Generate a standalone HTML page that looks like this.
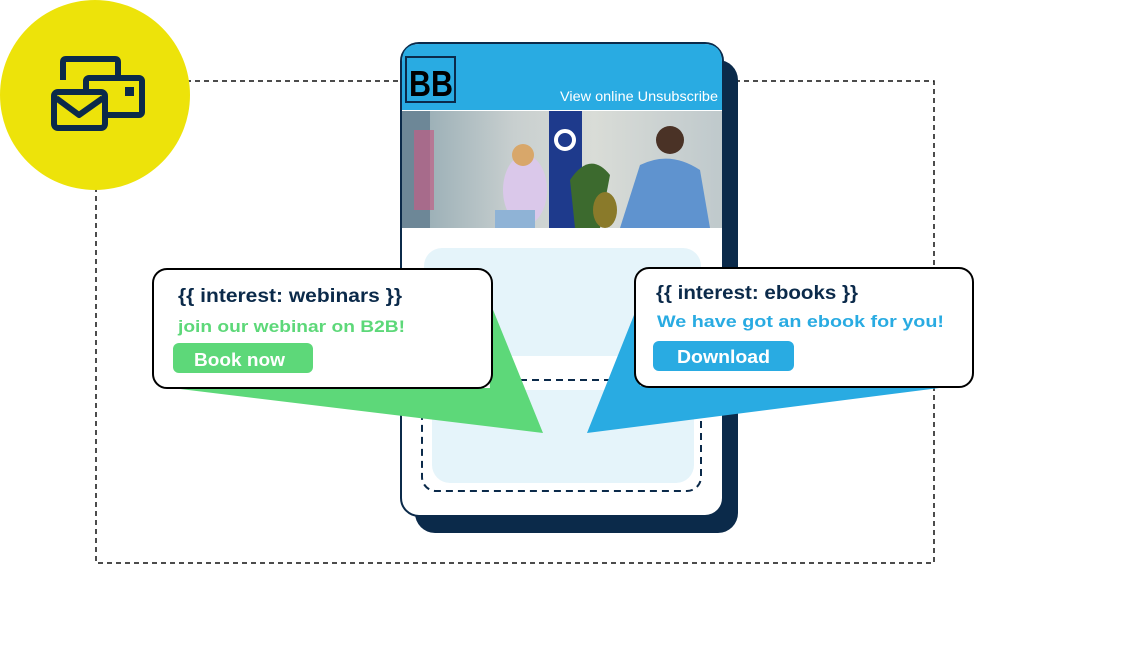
<!DOCTYPE html>
<html><head><meta charset="utf-8"><style>
html,body{margin:0;padding:0;background:#fff;}
svg{display:block;}
text{font-family:"Liberation Sans",sans-serif;font-weight:bold;}
</style></head><body>
<svg width="1140" height="652" viewBox="0 0 1140 652" xmlns="http://www.w3.org/2000/svg">
<rect x="96" y="81" width="838" height="482" fill="none" stroke="#111" stroke-width="1.5" stroke-dasharray="5,4"/>
<circle cx="95" cy="95" r="95" fill="#EDE30A"/>
<g fill="none" stroke="#0B2A4A" stroke-width="6" stroke-linejoin="round">
<path d="M63 80 V62 Q63 59 66 59 H115 Q118 59 118 62 V77"/>
<rect x="86" y="78" width="56" height="37" rx="3" fill="#EDE30A"/>
<rect x="54" y="92" width="51" height="36" rx="4" fill="#EDE30A"/>
<path d="M56 98 L79 115 L103 98"/>
</g>
<rect x="125" y="87" width="9" height="9" fill="#0B2A4A"/>
<rect x="415" y="60" width="323" height="473" rx="20" fill="#0B2A4A"/>
<rect x="401" y="43" width="322" height="473" rx="18" fill="#fff" stroke="#0B2A4A" stroke-width="2"/>
<path d="M402 110 V62 Q402 44 420 44 H704 Q722 44 722 62 V110 Z" fill="#29ABE2"/>
<rect x="406" y="57" width="49" height="45" fill="none" stroke="#0B2A4A" stroke-width="2"/>
<text x="409" y="96" font-size="36" fill="#000" textLength="44" lengthAdjust="spacingAndGlyphs" style="font-weight:900">BB</text>
<text x="560" y="101" font-size="14" fill="#fff" textLength="158" lengthAdjust="spacingAndGlyphs" style="font-weight:normal">View online  Unsubscribe</text>
<defs><linearGradient id="ph" x1="0" x2="1"><stop offset="0" stop-color="#8fa7b0"/><stop offset="0.35" stop-color="#c8cfcf"/><stop offset="0.6" stop-color="#d9dcd7"/><stop offset="1" stop-color="#bfc9cc"/></linearGradient></defs>
<rect x="402" y="111" width="320" height="117" fill="url(#ph)"/>
<rect x="402" y="111" width="28" height="117" fill="#6d8797"/>
<rect x="414" y="130" width="20" height="80" fill="#c05f86" opacity="0.7"/>
<rect x="549" y="111" width="33" height="117" fill="#1e3a8c"/>
<circle cx="565" cy="140" r="9" fill="none" stroke="#fff" stroke-width="4"/>
<ellipse cx="525" cy="190" rx="22" ry="35" fill="#dac8ea"/>
<circle cx="523" cy="155" r="11" fill="#d8a76a"/>
<rect x="495" y="210" width="40" height="18" fill="#8fb3d6"/>
<path d="M570 180 Q590 150 610 175 L600 228 H575 Z" fill="#3c6a2e"/>
<ellipse cx="605" cy="210" rx="12" ry="18" fill="#8a7a2a"/>
<path d="M640 165 Q670 150 700 170 L710 228 H620 Z" fill="#5f93cf"/>
<circle cx="670" cy="140" r="14" fill="#4a3226"/>
<rect x="424" y="248" width="277" height="108" rx="18" fill="#E5F4FA"/>
<rect x="432" y="390" width="262" height="93" rx="18" fill="#E5F4FA"/>
<rect x="422" y="380" width="279" height="111" rx="14" fill="none" stroke="#0B2A4A" stroke-width="2" stroke-dasharray="7,5"/>
<polygon points="485,290 543,433 172,388 490,388" fill="#5DD879"/>
<polygon points="640,300 587,433 955,386 640,386" fill="#29ABE2"/>
<rect x="153" y="269" width="339" height="119" rx="14" fill="#fff" stroke="#000" stroke-width="2"/>
<text x="178" y="302" font-size="19" fill="#0B2A4A" textLength="224" lengthAdjust="spacingAndGlyphs">{{ interest: webinars }}</text>
<text x="178" y="332" font-size="17" fill="#5DD879" textLength="227" lengthAdjust="spacingAndGlyphs">join our webinar on B2B!</text>
<rect x="173" y="343" width="140" height="30" rx="6" fill="#5DD879"/>
<text x="194" y="366" font-size="18" fill="#fff" textLength="91" lengthAdjust="spacingAndGlyphs">Book now</text>
<rect x="635" y="268" width="338" height="119" rx="14" fill="#fff" stroke="#000" stroke-width="2"/>
<text x="656" y="299" font-size="19" fill="#0B2A4A" textLength="202" lengthAdjust="spacingAndGlyphs">{{ interest: ebooks }}</text>
<text x="657" y="327" font-size="17" fill="#29ABE2" textLength="287" lengthAdjust="spacingAndGlyphs">We have got an ebook for you!</text>
<rect x="653" y="341" width="141" height="30" rx="6" fill="#29ABE2"/>
<text x="677" y="363" font-size="18" fill="#fff" textLength="93" lengthAdjust="spacingAndGlyphs">Download</text>
</svg>
</body></html>
